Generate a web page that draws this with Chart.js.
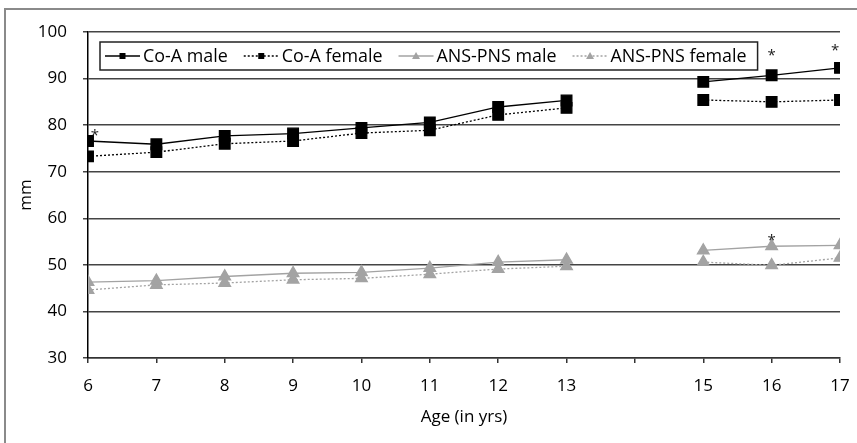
<!DOCTYPE html>
<html>
<head>
<script src="https://cdn.jsdelivr.net/npm/chart.js@4.4.0/dist/chart.umd.min.js"></script>
<style>
  body { margin: 0; background: #fff; }
  #wrap { width: 857px; height: 443px; }
</style>
</head>
<body>
<div id="wrap"><canvas id="myChart"></canvas></div>
<script>
// DATA
const ages = [6, 7, 8, 9, 10, 11, 12, 13, 14, 15, 16, 17];
const coaMale = [76.6, 75.9, 77.7, 78.2, 79.4, 80.6, 83.9, 85.3, null, 89.3, 90.7, 92.3];
const coaFemale = [73.3, 74.2, 76.0, 76.6, 78.3, 78.9, 82.2, 83.7, null, 85.4, 85.0, 85.4];
const ansMale = [46.3, 46.6, 47.5, 48.2, 48.4, 49.3, 50.6, 51.1, null, 53.1, 54.0, 54.2];
const ansFemale = [44.6, 45.7, 46.1, 46.8, 47.1, 48.0, 49.1, 49.7, null, 50.6, 49.9, 51.5];
const seriesNames = ['Co-A male', 'Co-A female', 'ANS-PNS male', 'ANS-PNS female'];
const hiddenTick = 14;
// significance marks: [age, mm]
const stars = [[6.1, 78.6], [16, 95.8], [16.93, 96.9], [16, 56.0]];

const FONT = "'Open Sans', 'Noto Sans', sans-serif";
const GRAY = '#a3a3a3';

function pts(vals) {
    return ages.map((a, i) => ({ x: a, y: vals[i] }));
}

// SETUP
const data = {
    datasets: [{
        label: seriesNames[0],
        data: pts(coaMale),
        borderColor: '#000',
        backgroundColor: '#000',
        borderWidth: 1.3,
        pointStyle: 'rect',
        pointRadius: 7.5
    }, {
        label: seriesNames[1],
        data: pts(coaFemale),
        borderColor: '#000',
        backgroundColor: '#000',
        borderWidth: 1.3,
        borderDash: [2, 2],
        pointStyle: 'rect',
        pointRadius: 7.5
    }, {
        label: seriesNames[2],
        data: pts(ansMale),
        borderColor: GRAY,
        backgroundColor: GRAY,
        borderWidth: 1.3,
        pointStyle: 'triangle',
        pointRadius: 6.7
    }, {
        label: seriesNames[3],
        data: pts(ansFemale),
        borderColor: GRAY,
        backgroundColor: GRAY,
        borderWidth: 1.3,
        borderDash: [2, 2],
        pointStyle: 'triangle',
        pointRadius: 6.7
    }]
};

// frame, legend box and asterisks
const extras = {
    id: 'extras',
    afterDraw(chart) {
        const ctx = chart.ctx;
        const xs = chart.scales.x, ys = chart.scales.y;
        ctx.save();

        // outer frame (top + left visible)
        ctx.strokeStyle = '#8a8a8a';
        ctx.lineWidth = 2;
        ctx.beginPath();
        ctx.moveTo(5, 443);
        ctx.lineTo(5, 9);
        ctx.lineTo(857, 9);
        ctx.stroke();

        // legend: size the font so the labels fill about 442px like the original
        ctx.font = '18px ' + FONT;
        let total = 0;
        chart.data.datasets.forEach(ds => { total += ctx.measureText(ds.label).width; });
        const fs = Math.min(18, 18 * 442 / total);
        ctx.font = fs + 'px ' + FONT;
        ctx.textBaseline = 'middle';
        const ly = 56;
        let sx = 105;
        const items = [];
        chart.data.datasets.forEach(ds => {
            const tw = ctx.measureText(ds.label).width;
            items.push({ ds, sx, tw });
            sx = sx + 35 + 3 + tw + 16;
        });
        const boxR = sx - 16 + 11;
        ctx.fillStyle = '#fff';
        ctx.fillRect(100, 42, boxR - 100, 28);
        ctx.strokeStyle = '#222';
        ctx.lineWidth = 1.5;
        ctx.strokeRect(100, 42, boxR - 100, 28);

        items.forEach(it => {
            const ds = it.ds;
            ctx.strokeStyle = ds.borderColor;
            ctx.lineWidth = 1.3;
            ctx.setLineDash(ds.borderDash || []);
            ctx.beginPath();
            ctx.moveTo(it.sx, ly);
            ctx.lineTo(it.sx + 35, ly);
            ctx.stroke();
            ctx.setLineDash([]);
            ctx.fillStyle = ds.backgroundColor;
            const cx = it.sx + 17.5;
            if (ds.pointStyle === 'rect') {
                ctx.fillRect(cx - 3, ly - 3, 6, 6);
            } else {
                ctx.beginPath();
                ctx.moveTo(cx, ly - 4);
                ctx.lineTo(cx + 4, ly + 3);
                ctx.lineTo(cx - 4, ly + 3);
                ctx.closePath();
                ctx.fill();
            }
            ctx.fillStyle = '#000';
            ctx.fillText(ds.label, it.sx + 38, ly + 1);
        });

        // asterisks
        ctx.font = '15px ' + FONT;
        ctx.textAlign = 'center';
        ctx.fillStyle = '#222';
        stars.forEach(s => {
            ctx.fillText('*', xs.getPixelForValue(s[0]), ys.getPixelForValue(s[1]) + 4);
        });
        ctx.restore();
    }
};

// CONFIG
const config = {
    type: 'line',
    data,
    plugins: [extras],
    options: {
        responsive: true,
        maintainAspectRatio: false,
        animation: false,
        spanGaps: false,
        layout: { padding: { top: 32, right: 17, left: 0, bottom: 0 } },
        elements: { line: { tension: 0 } },
        plugins: {
            legend: { display: false },
            tooltip: { enabled: false }
        },
        scales: {
            x: {
                type: 'linear',
                min: 6,
                max: 17,
                afterFit: s => { s.height = 85; s.paddingRight = 0; s.paddingLeft = 0; },
                ticks: {
                    stepSize: 1,
                    autoSkip: false,
                    maxRotation: 0,
                    padding: 13,
                    color: '#000',
                    font: { family: FONT, size: 17 },
                    callback: v => v === hiddenTick ? '' : v
                },
                grid: { drawOnChartArea: false, tickLength: 5, color: '#333', lineWidth: 1.5 },
                border: { color: '#333', width: 1.5 },
                title: {
                    display: true,
                    text: 'Age (in yrs)',
                    color: '#000',
                    font: { family: FONT, size: 17 },
                    padding: { top: 4, bottom: 16 }
                }
            },
            y: {
                min: 30,
                max: 100,
                afterFit: s => { s.width = 88; },
                ticks: {
                    stepSize: 10,
                    padding: 16,
                    color: '#000',
                    font: { family: FONT, size: 17 }
                },
                grid: { color: '#444', lineWidth: 1.5, tickLength: 5 },
                border: { color: '#000', width: 1.5 },
                title: {
                    display: true,
                    text: 'mm',
                    color: '#000',
                    font: { family: FONT, size: 17 },
                    padding: { top: 16, bottom: 4 }
                }
            }
        }
    }
};

// RENDER
const myChart = new Chart(document.getElementById('myChart'), config);
</script>
</body>
</html>
